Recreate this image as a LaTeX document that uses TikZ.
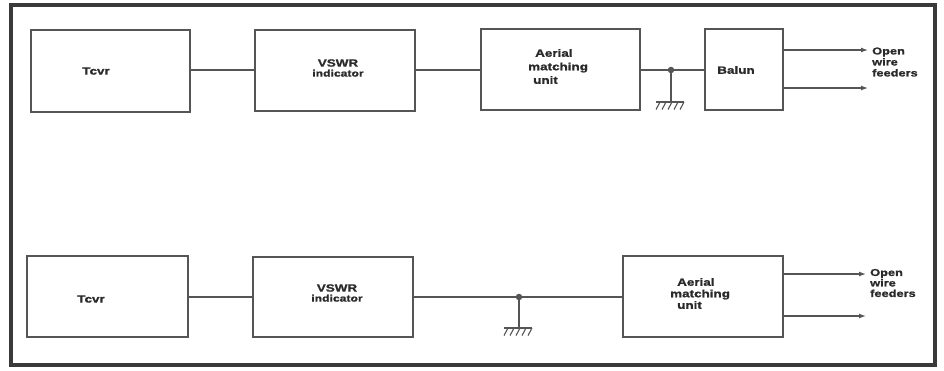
\documentclass[tikz,border=0pt]{standalone}
\usepackage{fontspec}
\setmainfont{Liberation Sans}[FakeStretch=1.28, BoldFeatures={FakeBold=1.2}]
\usetikzlibrary{arrows.meta,calc}
\definecolor{ln}{HTML}{555555}
\definecolor{tx}{HTML}{2A2A2A}
\definecolor{fr}{HTML}{3A3A3A}
\tikzset{
  blk/.style={draw=ln, line width=1.3pt, rectangle, inner sep=0pt},
  wire/.style={draw=ln, line width=1.3pt},
  arr/.style={wire, -{Latex[length=7pt,width=5pt]}},
  lab/.style={text=tx, inner sep=0pt, font=\fontsize{10.5}{12}\selectfont\bfseries},
  dotj/.style={circle, fill=ln, inner sep=0pt, minimum size=6.5pt},
}
\newcommand{\gnd}[1]{%
  \draw[wire, line width=1.1pt] ($(#1)+(-15,0)$) -- ($(#1)+(13,0)$);
  \foreach \dx in {-11,-5,1,7,13} \draw[wire, line width=1.1pt] ($(#1)+(\dx,0)$) -- ++(-4,7.5);
}
\begin{document}
\begin{tikzpicture}[x=1pt,y=-1pt]
\useasboundingbox (0,0) rectangle (944,370);
\draw[fr, line width=3.2pt] (11,5) rectangle (935,365);

% ---------- top row ----------
\node[blk, minimum width=159pt, minimum height=82pt] (T1) at (110.5,71) {};
\node[blk, minimum width=160pt, minimum height=81pt] (V1) at (335,70.5) {};
\node[blk, minimum width=159pt, minimum height=81pt] (A1) at (560.5,69.5) {};
\node[blk, minimum width=78pt, minimum height=81pt] (B1) at (744,69.5) {};

\node[lab] (T1l) at (96,71) {Tcvr};
\node[lab, align=center] (V1l) at (338,68) {VSWR\\[-2pt]\fontsize{9.5}{10}\selectfont indicator};
\node[lab, align=left, anchor=west, font=\fontsize{10.5}{13.5}\selectfont\bfseries] (A1l) at (528,66.5) {\hspace*{7pt}Aerial\\matching\\\hspace*{5pt}unit};
\node[lab] (B1l) at (736,70) {Balun};

\coordinate (J1) at (671,70);
\coordinate (G1) at (671,102);
\draw[wire] (T1.east |- 0,70) -- (V1.west |- 0,70);
\draw[wire] (V1.east |- 0,70) -- (A1.west |- 0,70);
\draw[wire] (A1.east |- J1) -- (B1.west |- J1);
\draw[wire] (J1) -- (G1);
\node[dotj] (J1d) at (J1) {};
\gnd{G1}

\coordinate (O1a) at (868,50);
\coordinate (O1b) at (868,88);
\draw[arr] (B1.east |- O1a) -- (O1a);
\draw[arr] (B1.east |- O1b) -- (O1b);
\node[lab, align=left, anchor=west, font=\fontsize{10}{11}\selectfont\bfseries] (F1) at (872,62) {Open\\wire\\feeders};

% ---------- bottom row ----------
\node[blk, minimum width=161pt, minimum height=81pt] (T2) at (107.5,296.5) {};
\node[blk, minimum width=160pt, minimum height=80pt] (V2) at (333,297) {};
\node[blk, minimum width=160pt, minimum height=81pt] (A2) at (703,296.5) {};

\node[lab] (T2l) at (91,299) {Tcvr};
\node[lab, align=center] (V2l) at (337,293) {VSWR\\[-2pt]\fontsize{9.5}{10}\selectfont indicator};
\node[lab, align=left, anchor=west, font=\fontsize{10.5}{11.5}\selectfont\bfseries] (A2l) at (670,293.5) {\hspace*{7pt}Aerial\\matching\\\hspace*{7pt}unit};

\coordinate (J2) at (519,297);
\coordinate (G2) at (519,328);
\draw[wire] (T2.east |- J2) -- (V2.west |- J2);
\draw[wire] (V2.east |- J2) -- (A2.west |- J2);
\draw[wire] (J2) -- (G2);
\node[dotj] (J2d) at (J2) {};
\gnd{G2}

\coordinate (O2a) at (866,274);
\coordinate (O2b) at (866,316);
\draw[arr] (A2.east |- O2a) -- (O2a);
\draw[arr] (A2.east |- O2b) -- (O2b);
\node[lab, align=left, anchor=west, font=\fontsize{10}{10.5}\selectfont\bfseries] (F2) at (870,283) {Open\\wire\\feeders};
\end{tikzpicture}
\end{document}
